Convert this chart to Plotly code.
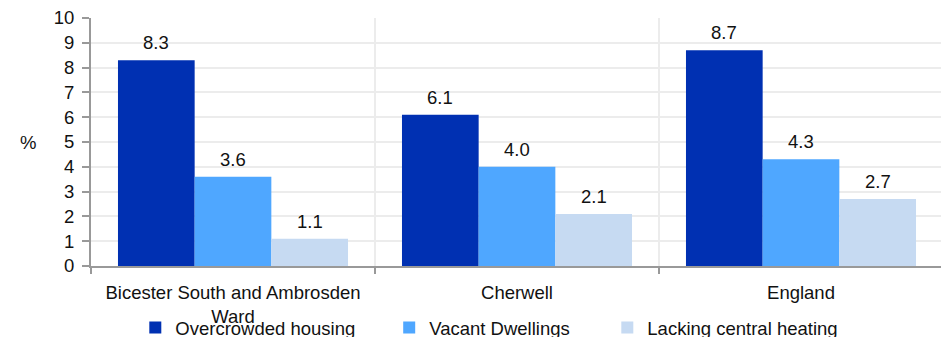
import plotly.graph_objects as go

categories = ["Bicester South and Ambrosden<br>Ward", "Cherwell", "England"]
series_names = ["Overcrowded housing", "Vacant Dwellings", "Lacking central heating"]
overcrowded = [8.3, 6.1, 8.7]
vacant = [3.6, 4.0, 4.3]
lacking_heating = [1.1, 2.1, 2.7]
y_ticks = [0, 1, 2, 3, 4, 5, 6, 7, 8, 9, 10]

colors = ["#0030B2", "#4FA7FF", "#C6DAF2"]
series_values = [overcrowded, vacant, lacking_heating]
legend_ids = ["legend", "legend2", "legend3"]
legend_x = [0.052, 0.350, 0.606]

font_family = "Liberation Sans, Arial, sans-serif"
FS = 18.5

fig = go.Figure()
for name, vals, col, lg in zip(series_names, series_values, colors, legend_ids):
    fig.add_trace(go.Bar(x=categories, y=vals, name=name, marker_color=col,
                         marker_line_width=0, legend=lg))

# value labels above bars
bar_px = 76.7
for i, (vals) in enumerate(series_values):
    for c, v in zip(categories, vals):
        fig.add_annotation(x=c, y=v, text=f"{v:.1f}", showarrow=False,
                           xref="x", yref="y", yanchor="bottom", xanchor="center",
                           xshift=(i - 1) * bar_px, yshift=5,
                           font=dict(size=FS, color="#111", family=font_family))

fig.add_annotation(x=-0.074, y=0.5, xref="paper", yref="paper", text="%",
                   xanchor="center", yanchor="middle",
                   showarrow=False, font=dict(size=FS, color="#111", family=font_family))

legend_common = dict(orientation="h", xanchor="left", y=-0.25, yanchor="middle",
                     font=dict(size=FS, color="#111"), itemwidth=30,
                     bgcolor="rgba(0,0,0,0)")
fig.update_layout(
    width=941, height=330,
    margin=dict(l=83, r=6, t=10, b=72, autoexpand=False),
    barmode="group", bargap=0.19, bargroupgap=0,
    plot_bgcolor="white", paper_bgcolor="white",
    font=dict(family=font_family, size=FS, color="#111"),
    showlegend=True,
    legend=dict(x=legend_x[0], **legend_common),
    legend2=dict(x=legend_x[1], **legend_common),
    legend3=dict(x=legend_x[2], **legend_common),
)
fig.update_xaxes(
    type="category", tickson="boundaries", showgrid=True, gridcolor="#ececec", gridwidth=2,
    showline=True, linecolor="#999", linewidth=2, ticks="outside", ticklen=6,
    tickcolor="#999", tickwidth=2, tickfont=dict(size=FS, color="#111"),
    automargin=False, ticklabelstandoff=9, ticklabeloverflow="allow",
)
fig.update_yaxes(
    range=[0, 10], tickvals=y_ticks, showgrid=True, gridcolor="#ececec", gridwidth=2,
    showline=True, linecolor="#999", linewidth=2, ticks="outside", ticklen=7,
    tickcolor="#999", tickwidth=2, tickfont=dict(size=FS, color="#111"),
    zeroline=False, automargin=False, ticklabelstandoff=4, ticklabeloverflow="allow",
)

fig.write_html("out.html")
